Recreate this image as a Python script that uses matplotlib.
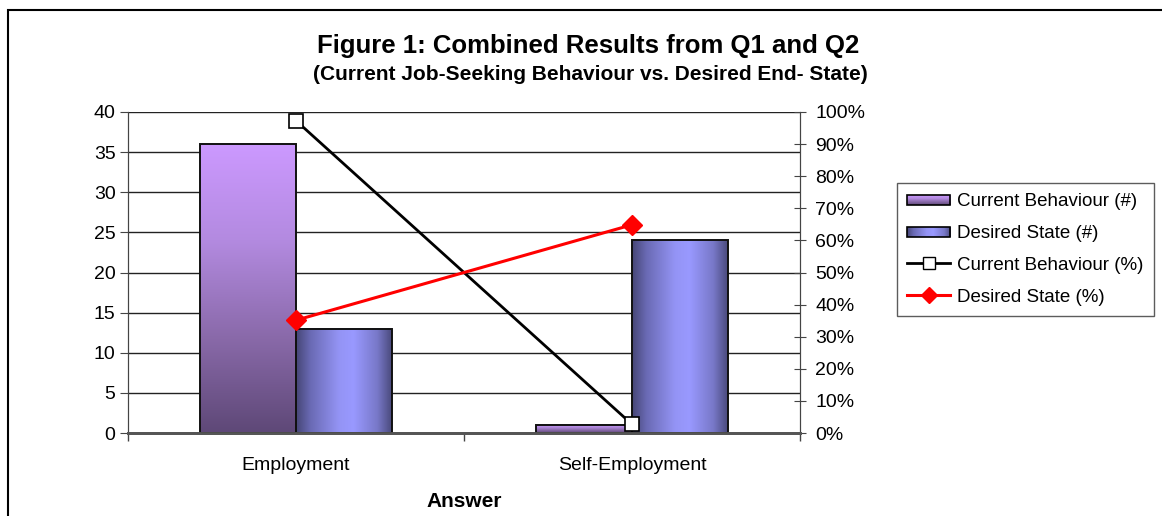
import matplotlib.pyplot as plt
import numpy as np
from matplotlib.colors import LinearSegmentedColormap
from matplotlib.patches import Rectangle, Patch
from matplotlib.lines import Line2D
from matplotlib.ticker import FuncFormatter
from matplotlib.legend_handler import HandlerBase
from matplotlib.image import BboxImage
from matplotlib.transforms import Bbox, TransformedBbox

plt.rcParams['font.family'] = ['Liberation Sans', 'DejaVu Sans']

# Q1 / Q2 results
categories = ["Employment", "Self-Employment"]
current_count = [36, 1]
desired_count = [13, 24]
current_pct = [36 / 37 * 100, 1 / 37 * 100]
desired_pct = [13 / 37 * 100, 24 / 37 * 100]

# vertical purple fade (bottom dark -> top light)
purple = LinearSegmentedColormap.from_list(
    "purple", ["#5e4877", "#8a6aaa", "#b38ae0", "#cc99ff"])
# cylinder-like blue shading across the bar
blue = LinearSegmentedColormap.from_list(
    "blue", [(0.0, "#464676"), (0.15, "#6a6ab4"), (0.45, "#9494f5"),
             (0.6, "#9999ff"), (0.85, "#7878c8"), (1.0, "#4a4a7c")])

V_GRAD = np.linspace(0, 1, 256).reshape(-1, 1)
H_GRAD = np.linspace(0, 1, 256).reshape(1, -1)

fig = plt.figure(figsize=(11.62, 5.16), dpi=100)
ax = fig.add_axes([128 / 1162, 1 - 433 / 516, 672 / 1162, 321 / 516])
ax2 = ax.twinx()

w = 1 / 3.5
x = np.arange(len(categories))


def gradient_bar(x0, height, cmap, grad):
    ax.imshow(grad, cmap=cmap, extent=(x0, x0 + w, 0, height),
              origin="lower", aspect="auto", zorder=2, interpolation="bicubic")
    ax.add_patch(Rectangle((x0, 0), w, height, fill=False,
                           edgecolor="#111111", lw=1.4, zorder=3))


for i in x:
    gradient_bar(i - w, current_count[i], purple, V_GRAD)
    gradient_bar(i, desired_count[i], blue, H_GRAD)

ax.set_xlim(-0.5, 1.5)
ax.set_ylim(0, 40)
ax.set_yticks(range(0, 41, 5))
ax.yaxis.grid(True, color="#222222", lw=1)
ax.set_axisbelow(True)
ax.set_xticks(x)
ax.set_xticklabels(categories, fontsize=14)
ax.set_xticks([-0.5, 0.5, 1.5], minor=True)
ax.tick_params(axis="x", which="major", length=0, pad=17)
ax.tick_params(axis="x", which="minor", length=6, width=1, color="#444444")
ax.tick_params(axis="y", labelsize=14, length=6, color="#444444", pad=3)
ax.set_xlabel("Answer", fontsize=15, fontweight="bold", labelpad=13)

ax2.plot(x, current_pct, color="black", lw=2, marker="s", markersize=10,
         markerfacecolor="white", markeredgecolor="black", markeredgewidth=1.2,
         zorder=5)
ax2.plot(x, desired_pct, color="#ff0000", lw=2.2, marker="D", markersize=10,
         markerfacecolor="#ff0000", markeredgecolor="#ff0000", zorder=5)
ax2.set_ylim(0, 100)
ax2.set_yticks(range(0, 101, 10))
ax2.yaxis.set_major_formatter(FuncFormatter(lambda v, p: f"{v:.0f}%"))
ax2.tick_params(axis="y", labelsize=14, direction="inout", length=8,
                color="#444444", pad=7)

for a in (ax, ax2):
    a.spines["top"].set_visible(False)
    a.spines["left"].set_color("#444444")
    a.spines["right"].set_color("#444444")
    a.spines["bottom"].set_color("#555555")
    a.spines["bottom"].set_linewidth(2)

fig.text(588 / 1162, 1 - 46 / 516, "Figure 1: Combined Results from Q1 and Q2",
         ha="center", va="center", fontsize=18.5, fontweight="bold")
fig.text(590 / 1162, 1 - 75 / 516,
         "(Current Job-Seeking Behaviour vs. Desired End- State)",
         ha="center", va="center", fontsize=15, fontweight="bold")


class GradientHandler(HandlerBase):
    def __init__(self, cmap, grad):
        super().__init__()
        self.cmap = cmap
        self.grad = grad

    def create_artists(self, legend, orig_handle, xdescent, ydescent,
                       width, height, fontsize, trans):
        y0 = -ydescent + height * 0.1
        h = height * 0.75
        box = TransformedBbox(Bbox.from_bounds(-xdescent, y0, width, h), trans)
        img = BboxImage(box, cmap=self.cmap, interpolation="bicubic",
                        origin="lower")
        img.set_data(self.grad)
        edge = Rectangle((-xdescent, y0), width, h, fill=False,
                         edgecolor="black", lw=1.2, transform=trans)
        return [img, edge]


cur_patch = Patch(facecolor="#a07ccc")
des_patch = Patch(facecolor="#8080e0")
handles = [
    cur_patch,
    des_patch,
    Line2D([], [], color="black", lw=2, marker="s", markersize=8,
           markerfacecolor="white", markeredgecolor="black"),
    Line2D([], [], color="#ff0000", lw=2.2, marker="D", markersize=8,
           markerfacecolor="#ff0000"),
]
labels = ["Current Behaviour (#)", "Desired State (#)",
          "Current Behaviour (%)", "Desired State (%)"]
leg = fig.legend(handles, labels, loc="upper left",
                 bbox_to_anchor=(897 / 1162, 1 - 183 / 516),
                 fontsize=13.5, frameon=True, fancybox=False, borderaxespad=0,
                 handlelength=2.3, handletextpad=0.35, labelspacing=0.78,
                 borderpad=0.55,
                 handler_map={cur_patch: GradientHandler(purple, V_GRAD),
                              des_patch: GradientHandler(blue, H_GRAD)})
leg.get_frame().set_edgecolor("#333333")
leg.get_frame().set_linewidth(1)

# outer chart border
fig.add_artist(Rectangle((8 / 1162, -0.1), 1.2, 1 - 10 / 516 + 0.1,
                         transform=fig.transFigure, fill=False,
                         edgecolor="black", lw=1.5))

fig.savefig("out.png", dpi=100)
